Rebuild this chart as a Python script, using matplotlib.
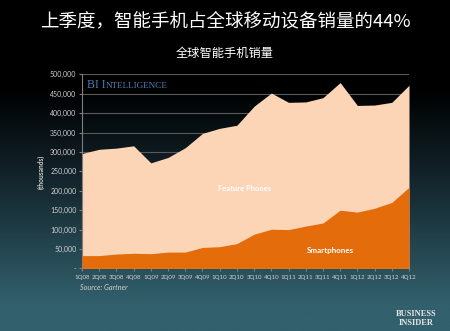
import numpy as np
import matplotlib
matplotlib.use("Agg")
import matplotlib.pyplot as plt
from matplotlib.colors import LinearSegmentedColormap

plt.rcParams['font.family'] = ['Noto Sans CJK SC', 'DejaVu Sans']

quarters = ["1Q08", "2Q08", "3Q08", "4Q08", "1Q09", "2Q09", "3Q09", "4Q09",
            "1Q10", "2Q10", "3Q10", "4Q10", "1Q11", "2Q11", "3Q11", "4Q11",
            "1Q12", "2Q12", "3Q12", "4Q12"]
# units in thousands (scaled by 1000 below to match the axis)
smartphones = [33, 33, 37, 39, 38, 42, 42, 54, 56, 64, 88, 101, 100, 109, 117, 150,
               145, 155, 170, 209]
total = [296, 307, 310, 316, 272, 286, 311, 348, 361, 369, 418, 452, 428, 429, 440, 479,
         420, 421, 428, 472]
yticks = [0, 50000, 100000, 150000, 200000, 250000, 300000, 350000, 400000, 450000, 500000]

smart = np.array(smartphones) * 1000
tot = np.array(total) * 1000

W, H = 450, 331
fig = plt.figure(figsize=(W / 100, H / 100), dpi=100)

# background gradient
bg = fig.add_axes([0, 0, 1, 1], zorder=-10)
cmap = LinearSegmentedColormap.from_list("bg", [(0, "#000000"), (0.27, "#000000"),
                                                (0.55, "#14262e"), (0.92, "#32606c"),
                                                (1, "#32606c")])
grad = np.linspace(0, 1, 256).reshape(-1, 1)
bg.imshow(grad, aspect="auto", cmap=cmap, extent=[0, 1, 0, 1], origin="upper")
bg.axis("off")

left, right = 82 / W, 409 / W
bottom, top = 1 - 268.4 / H, 1 - 74.4 / H
ax = fig.add_axes([left, bottom, right - left, top - bottom])
ax.set_facecolor("none")

x = np.arange(len(quarters))
ax.fill_between(x, 0, tot, color="#fbd5b5", lw=0, zorder=2)
ax.fill_between(x, 0, smart, color="#e46c0a", lw=0, zorder=3)

ax.set_xlim(0, len(quarters) - 1)
ax.set_ylim(0, 500000)
ax.set_yticks(yticks)
ax.set_yticklabels(["-" if v == 0 else f"{v:,}" for v in yticks], family="Lato")
ax.set_xticks(x)
ax.set_xticklabels(quarters, family="Lato")
ax.grid(axis="y", color="#595959", lw=0.8, zorder=1)
ax.set_axisbelow(True)
for s in ["top", "right", "bottom"]:
    ax.spines[s].set_visible(False)
ax.spines["left"].set_color("#7f7f7f")
ax.spines["left"].set_linewidth(0.8)
ax.tick_params(axis="y", length=2, color="#7f7f7f", labelsize=5, labelcolor="#d0d0d0", pad=2)
ax.tick_params(axis="x", length=2, color="#7f7f7f", labelsize=4.4, labelcolor="#d0d0d0", pad=3)
ax.set_ylabel("(thousands)", color="#d0d0d0", fontsize=4.8, labelpad=4, family="Lato",
              fontweight="bold")

# "BI Intelligence" in simulated small caps
renderer = fig.canvas.get_renderer()
xpos = 86.7
base_y = 1 - 87.5 / H
for txt, size in [("BI I", 8.5), ("NTELLIGENCE", 6.6)]:
    t = fig.text(xpos / W, base_y, txt, fontsize=size, family="Liberation Serif",
                 color="#4f7fb0", va="baseline", ha="left")
    bb = t.get_window_extent(renderer)
    xpos += bb.width + (0.6 if txt == "BI I" else 0)

ax.text(9.45, 205000, "Feature Phones", color="white", fontsize=5.5, fontweight="bold",
        family="Lato", ha="center", va="center", zorder=5)
ax.text(14.45, 47000, "Smartphones", color="white", fontsize=5.8, fontweight="bold",
        family="Lato", ha="center", va="center", zorder=5)

fig.text(0.5, 1 - 21.5 / H, "上季度，智能手机占全球移动设备销量的44%", color="white",
         fontsize=13.3, ha="center", va="center")
fig.text(0.5, 1 - 53 / H, "全球智能手机销量", color="white", fontsize=8.8,
         ha="center", va="center")
fig.text(80 / W, 1 - 287 / H, "Source: Gartner", color="#d0d0d0", fontsize=5.2,
         style="italic", family="Lato", ha="left", va="center")

# Business Insider logo (simulated small caps)
for line, yc in [("BUSINESS", 313.5), ("INSIDER", 323)]:
    fig.text(416.5 / W, 1 - yc / H, line, color="#e8e8e8", fontsize=6,
             family="Liberation Serif", fontweight="bold", ha="center", va="center")

fig.savefig("out.png", dpi=100, facecolor="black")
